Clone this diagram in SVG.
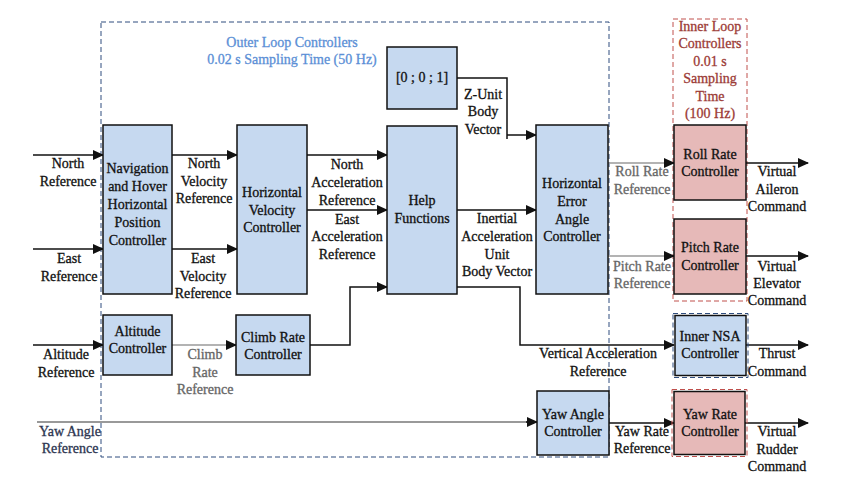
<svg xmlns="http://www.w3.org/2000/svg" width="847" height="490" viewBox="0 0 847 490" font-family="'Liberation Serif', 'DejaVu Serif', serif">
<style>
text{font-family:'Liberation Serif','DejaVu Serif',serif;font-size:14px;fill:#111;stroke:#111;stroke-width:0.3;text-anchor:middle}
.blue{fill:#c6d9f0;stroke:#111;stroke-width:1.5}
.red{fill:#e6b9b8;stroke:#111;stroke-width:1.5}
.w{fill:none;stroke:#111;stroke-width:1.5}
.g{fill:none;stroke:#9a9a9a;stroke-width:1.5}
text.gt{fill:#666;stroke:#666}
text.bt{fill:#5b8fd6;stroke:#5b8fd6}
text.rt{fill:#9c3b36;stroke:#9c3b36}
text.yt{fill:#2c3550;stroke:#2c3550}
.dashb{fill:none;stroke:#2f4d7e;stroke-width:1;stroke-dasharray:5 3}
.dashr{fill:none;stroke:#c0504d;stroke-width:1;stroke-dasharray:5 3}
</style>
<defs>
<marker id="ah" markerUnits="userSpaceOnUse" markerWidth="11" markerHeight="10" refX="10" refY="5" orient="auto">
<path d="M0,0 L11,5 L0,10 z" fill="#111"/>
</marker>
</defs>
<rect width="847" height="490" fill="#fff"/>

<g id="outer-loop-frame">
<rect class="dashb" x="101" y="22" width="508" height="435"/>
<text class="bt" x="292" y="47">Outer Loop Controllers</text>
<text class="bt" x="292" y="64">0.02 s Sampling Time (50 Hz)</text>
</g>
<g id="inner-loop-frame">
<rect class="dashr" x="673" y="19" width="74" height="282"/>
<text class="rt" x="710" y="31">Inner Loop</text>
<text class="rt" x="710" y="48">Controllers</text>
<text class="rt" x="710" y="66">0.01 s</text>
<text class="rt" x="710" y="83">Sampling</text>
<text class="rt" x="710" y="101">Time</text>
<text class="rt" x="710" y="118">(100 Hz)</text>
</g>

<g id="connectors">
<line class="w" x1="33" y1="155" x2="103" y2="155" marker-end="url(#ah)"/>
<line class="w" x1="33" y1="249" x2="103" y2="249" marker-end="url(#ah)"/>
<line class="w" x1="33" y1="345" x2="103" y2="345" marker-end="url(#ah)"/>
<line class="w" x1="172" y1="155" x2="237" y2="155" marker-end="url(#ah)"/>
<line class="w" x1="172" y1="249" x2="237" y2="249" marker-end="url(#ah)"/>
<line class="g" x1="172" y1="345" x2="228" y2="345"/>
<line class="w" x1="226" y1="345" x2="236" y2="345" marker-end="url(#ah)"/>
<line class="w" x1="307" y1="155" x2="387" y2="155" marker-end="url(#ah)"/>
<line class="w" x1="307" y1="210" x2="387" y2="210" marker-end="url(#ah)"/>
<polyline class="w" points="310,345 350,345 350,287 387,287" marker-end="url(#ah)"/>
<polyline class="w" points="457,78 507,78 507,139"/>
<line class="w" x1="507" y1="135" x2="536" y2="135" marker-end="url(#ah)"/>
<line class="w" x1="457" y1="210" x2="536" y2="210" marker-end="url(#ah)"/>
<polyline class="w" points="457,287 520,287 520,345 674,345" marker-end="url(#ah)"/>
<line class="g" x1="608" y1="163" x2="666" y2="163"/>
<line class="w" x1="664" y1="163" x2="674" y2="163" marker-end="url(#ah)"/>
<line class="g" x1="608" y1="256" x2="666" y2="256"/>
<line class="w" x1="664" y1="256" x2="674" y2="256" marker-end="url(#ah)"/>
<line class="g" x1="37" y1="422" x2="530" y2="422" style="stroke:#777"/>
<line class="w" x1="526" y1="422" x2="537" y2="422" marker-end="url(#ah)"/>
<line class="w" x1="609" y1="423" x2="674" y2="423" marker-end="url(#ah)"/>
<line class="w" x1="746" y1="163" x2="808" y2="163" marker-end="url(#ah)"/>
<line class="w" x1="746" y1="256" x2="808" y2="256" marker-end="url(#ah)"/>
<line class="w" x1="746" y1="345" x2="808" y2="345" marker-end="url(#ah)"/>
<line class="w" x1="745" y1="423" x2="808" y2="423" marker-end="url(#ah)"/>
</g>

<g id="labels">
<text x="68" y="168">North</text>
<text x="68" y="186">Reference</text>
<text x="69" y="263">East</text>
<text x="69" y="281">Reference</text>
<text x="66" y="359">Altitude</text>
<text x="66" y="377">Reference</text>
<text class="yt" x="70" y="436">Yaw Angle</text>
<text class="yt" x="70" y="453">Reference</text>
<text x="204" y="168">North</text>
<text x="204" y="186">Velocity</text>
<text x="204" y="203">Reference</text>
<text x="203" y="263">East</text>
<text x="203" y="281">Velocity</text>
<text x="203" y="298">Reference</text>
<text class="gt" x="205" y="359">Climb</text>
<text class="gt" x="205" y="377">Rate</text>
<text class="gt" x="205" y="394">Reference</text>
<text x="347" y="169">North</text>
<text x="347" y="187">Acceleration</text>
<text x="347" y="205">Reference</text>
<text x="347" y="224">East</text>
<text x="347" y="241">Acceleration</text>
<text x="347" y="259">Reference</text>
<text x="483" y="99">Z-Unit</text>
<text x="483" y="116">Body</text>
<text x="483" y="134">Vector</text>
<text x="497" y="223">Inertial</text>
<text x="497" y="241">Acceleration</text>
<text x="497" y="259">Unit</text>
<text x="497" y="276">Body Vector</text>
<text class="gt" x="642" y="176">Roll Rate</text>
<text class="gt" x="642" y="194">Reference</text>
<text class="gt" x="642" y="271">Pitch Rate</text>
<text class="gt" x="642" y="288">Reference</text>
<text x="598" y="358">Vertical Acceleration</text>
<text x="598" y="376">Reference</text>
<text x="642" y="436">Yaw Rate</text>
<text x="642" y="453">Reference</text>
<text x="777" y="176">Virtual</text>
<text x="777" y="194">Aileron</text>
<text x="777" y="211">Command</text>
<text x="777" y="271">Virtual</text>
<text x="777" y="288">Elevator</text>
<text x="777" y="305">Command</text>
<text x="777" y="358">Thrust</text>
<text x="777" y="376">Command</text>
<text x="777" y="436">Virtual</text>
<text x="777" y="454">Rudder</text>
<text x="777" y="471">Command</text>
</g>

<g id="nav-controller">
<rect class="blue" x="103" y="125" width="69" height="169"/>
<text x="137.5" y="173">Navigation</text>
<text x="137.5" y="191">and Hover</text>
<text x="137.5" y="209">Horizontal</text>
<text x="137.5" y="227">Position</text>
<text x="137.5" y="245">Controller</text>
</g>
<g id="horizontal-velocity-controller">
<rect class="blue" x="237" y="125" width="70" height="169"/>
<text x="272" y="197">Horizontal</text>
<text x="272" y="214.5">Velocity</text>
<text x="272" y="232">Controller</text>
</g>
<g id="unit-vector">
<rect class="blue" x="387" y="47" width="70" height="62"/>
<text x="422" y="82">[0 ; 0 ; 1]</text>
</g>
<g id="help-functions">
<rect class="blue" x="387" y="126" width="70" height="168"/>
<text x="422" y="205">Help</text>
<text x="422" y="223">Functions</text>
</g>
<g id="horizontal-error-angle-controller">
<rect class="blue" x="536" y="125" width="72" height="169"/>
<text x="572" y="188">Horizontal</text>
<text x="572" y="206">Error</text>
<text x="572" y="224">Angle</text>
<text x="572" y="241">Controller</text>
</g>
<g id="altitude-controller">
<rect class="blue" x="103" y="315" width="69" height="60"/>
<text x="137.5" y="336">Altitude</text>
<text x="137.5" y="353">Controller</text>
</g>
<g id="climb-rate-controller">
<rect class="blue" x="236" y="315" width="74" height="60"/>
<text x="273" y="342">Climb Rate</text>
<text x="273" y="359">Controller</text>
</g>
<g id="yaw-angle-controller">
<rect class="blue" x="537" y="391" width="72" height="64"/>
<text x="573" y="419">Yaw Angle</text>
<text x="573" y="436">Controller</text>
</g>
<g id="roll-rate-controller">
<rect class="red" x="674" y="125" width="72" height="75"/>
<text x="710" y="159">Roll Rate</text>
<text x="710" y="176">Controller</text>
</g>
<g id="pitch-rate-controller">
<rect class="red" x="674" y="219" width="72" height="75"/>
<text x="710" y="252">Pitch Rate</text>
<text x="710" y="270">Controller</text>
</g>
<g id="inner-nsa-controller">
<rect class="dashb" x="673" y="313.5" width="75" height="64"/>
<rect class="blue" x="675" y="315.5" width="71" height="60"/>
<text x="710" y="341">Inner NSA</text>
<text x="710" y="358">Controller</text>
</g>
<g id="yaw-rate-controller">
<rect class="dashr" x="672" y="389.5" width="75" height="67"/>
<rect class="red" x="674" y="391.5" width="71" height="63"/>
<text x="710" y="419">Yaw Rate</text>
<text x="710" y="436">Controller</text>
</g>
</svg>
